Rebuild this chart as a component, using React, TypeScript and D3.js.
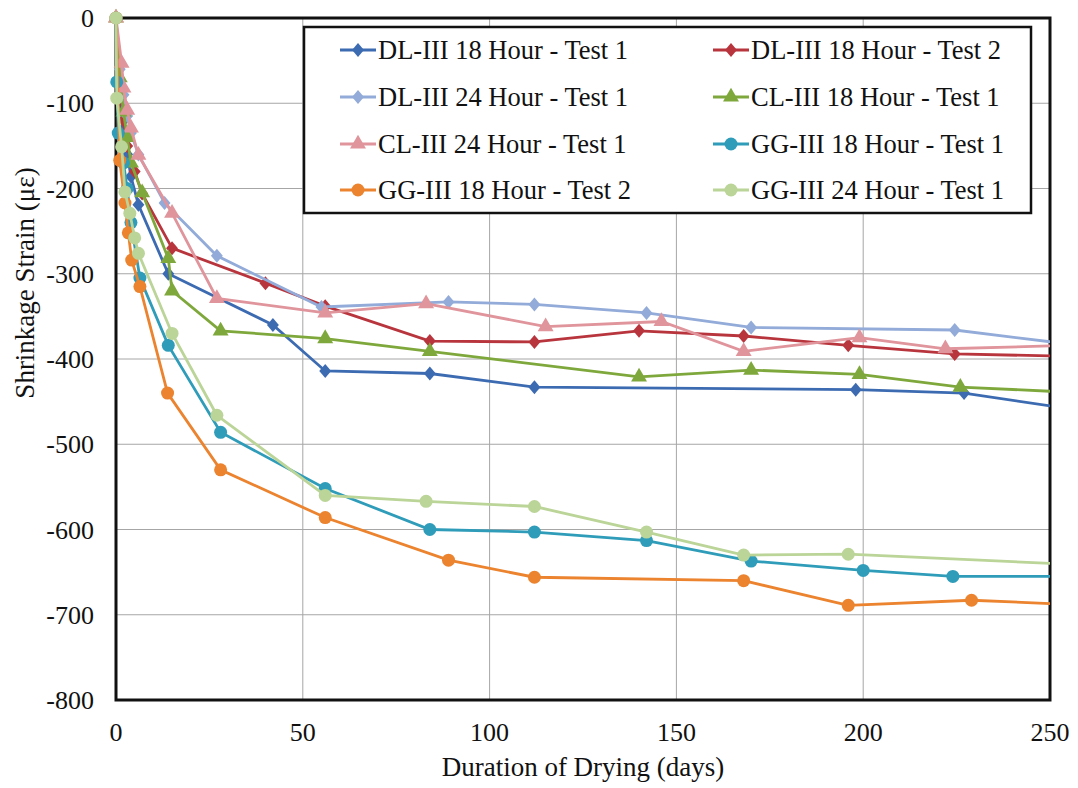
import React from "react";
import * as d3 from "d3";

// ---- data ----
const dl18t1Days = [0, 1, 2, 3, 4, 6, 14, 42, 56, 84, 112, 198, 227, 256];
const dl18t1Vals = [0, -95, -130, -160, -186, -219, -300, -360, -414, -417, -433, -436, -440, -459];

const dl18t2Days = [0, 1, 2, 3, 5, 7, 15, 40, 56, 84, 112, 140, 168, 196, 224.5, 256];
const dl18t2Vals = [0, -80, -120, -150, -180, -206, -270, -311, -338, -379, -380, -367, -373, -384, -394, -397];

const dl24t1Days = [0, 1, 2, 3, 4, 6, 13, 27, 55, 89, 112, 142, 170, 224.5, 256];
const dl24t1Vals = [0, -60, -90, -115, -135, -160, -217, -279, -339, -333, -336, -346, -363, -366, -383];

const cl18t1Days = [0, 1, 2, 3, 4, 7, 14, 15, 28, 56, 84, 140, 170, 199, 226, 256];
const cl18t1Vals = [0, -70, -110, -140, -170, -205, -282, -320, -367, -376, -391, -421, -413, -418, -433, -439];

const cl24t1Days = [0, 1.5, 2, 3, 4, 6, 15, 27, 56, 83, 115, 146, 168, 199, 222, 256];
const cl24t1Vals = [0, -53, -82, -108, -129, -161, -229, -329, -346, -335, -362, -356, -391, -375, -388, -384];

const gg18t1Days = [0, 0.2, 0.6, 2, 3, 4, 6.4, 14, 28, 56, 84, 112, 142, 170, 200, 224, 256];
const gg18t1Vals = [0, -75, -135, -170, -200, -240, -305, -384, -486, -552, -600, -603, -613, -637, -648, -655, -655];

const gg18t2Days = [0, 1, 2.4, 3.3, 4.2, 6.4, 13.8, 28, 56, 89, 112, 168, 196, 229, 256];
const gg18t2Vals = [0, -167, -217, -252, -284, -315, -440, -530, -586, -636, -656, -660, -689, -683, -688];

const gg24t1Days = [0, 0.2, 1.5, 2.4, 3.7, 5, 6, 15, 27, 56, 83, 112, 142, 168, 196, 256];
const gg24t1Vals = [0, -94, -151, -204, -229, -258, -276, -370, -466, -560, -567, -573, -603, -630, -629, -641];

const seriesNames = [
  "DL-III 18 Hour - Test 1",
  "DL-III 18 Hour - Test 2",
  "DL-III 24 Hour - Test 1",
  "CL-III 18 Hour - Test 1",
  "CL-III 24 Hour - Test 1",
  "GG-III 18 Hour - Test 1",
  "GG-III 18 Hour - Test 2",
  "GG-III 24 Hour - Test 1",
];
const seriesDays = [dl18t1Days, dl18t2Days, dl24t1Days, cl18t1Days, cl24t1Days, gg18t1Days, gg18t2Days, gg24t1Days];
const seriesVals = [dl18t1Vals, dl18t2Vals, dl24t1Vals, cl18t1Vals, cl24t1Vals, gg18t1Vals, gg18t2Vals, gg24t1Vals];
const seriesColors = ["#3D6BB2", "#B8353D", "#92ABD8", "#7FA83C", "#E0949B", "#2F9CB9", "#EB832F", "#BBD498"];
const seriesMarkers = ["diamond", "diamond", "diamond", "triangle", "triangle", "circle", "circle", "circle"];

const xTicks = [0, 50, 100, 150, 200, 250];
const yTicks = [0, -100, -200, -300, -400, -500, -600, -700, -800];

const W = 1078;
const H = 788;
const FONT = "Liberation Serif";

function Marker({ type, x, y, color }: { type: string; x: number; y: number; color: string }) {
  if (type === "diamond") {
    const s = 7;
    return <path d={`M${x},${y - s}L${x + s * 0.85},${y}L${x},${y + s}L${x - s * 0.85},${y}Z`} fill={color} />;
  }
  if (type === "triangle") {
    const p = d3.symbol().type(d3.symbolTriangle).size(110)();
    return <path d={p || ""} transform={`translate(${x},${y})`} fill={color} />;
  }
  return <circle cx={x} cy={y} r={6.5} fill={color} />;
}

export default function App() {
  const x = d3.scaleLinear().domain([0, 250]).range([116, 1050]);
  const y = d3.scaleLinear().domain([-800, 0]).range([700, 18]);
  const line = d3
    .line<[number, number]>()
    .x((d) => x(d[0]))
    .y((d) => y(d[1]));

  const legendCols = [340, 713];
  const legendRows = [50, 97, 144, 190];
  const txt = { fontFamily: FONT, fill: "#111" } as React.CSSProperties;

  return (
    <svg width={W} height={H} style={{ position: "absolute", left: 0, top: 0, background: "#fff" }}>
      <defs>
        <clipPath id="clipX">
          <rect x={0} y={0} width={x(250)} height={H} />
        </clipPath>
      </defs>
      <rect x={0} y={0} width={W} height={H} fill="#fff" />
      {/* grid */}
      {xTicks.slice(1, -1).map((t) => (
        <line key={"gx" + t} x1={x(t)} x2={x(t)} y1={y(0)} y2={y(-800)} stroke="#a6a6a6" strokeWidth={1} />
      ))}
      {yTicks.slice(1, -1).map((t) => (
        <line key={"gy" + t} x1={x(0)} x2={x(250)} y1={y(t)} y2={y(t)} stroke="#a6a6a6" strokeWidth={1} />
      ))}
      {/* frame */}
      <rect x={x(0)} y={y(0)} width={x(250) - x(0)} height={y(-800) - y(0)} fill="none" stroke="#111" strokeWidth={3} />
      {/* tick labels */}
      {yTicks.map((t) => (
        <text key={"yl" + t} x={94} y={y(t)} dy="0.35em" textAnchor="end" style={{ ...txt, fontSize: 26 }}>
          {t}
        </text>
      ))}
      {xTicks.map((t) => (
        <text key={"xl" + t} x={x(t)} y={732} dy="0.35em" textAnchor="middle" style={{ ...txt, fontSize: 26 }}>
          {t}
        </text>
      ))}
      <text x={583} y={767} dy="0.35em" textAnchor="middle" style={{ ...txt, fontSize: 27 }}>
        Duration of Drying (days)
      </text>
      <text transform={`translate(25,283) rotate(-90)`} dy="0.35em" textAnchor="middle" style={{ ...txt, fontSize: 27 }}>
        Shrinkage Strain (με)
      </text>
      {/* series */}
      {seriesNames.map((name, i) => {
        const pts: [number, number][] = seriesDays[i].map((d, j) => [d, seriesVals[i][j]]);
        return (
          <g key={name}>
            <path d={line(pts) || ""} fill="none" stroke={seriesColors[i]} strokeWidth={2.8} clipPath="url(#clipX)" />
            {pts
              .filter((p) => p[0] <= 250)
              .map((p, j) => (
                <Marker key={j} type={seriesMarkers[i]} x={x(p[0])} y={y(p[1])} color={seriesColors[i]} />
              ))}
          </g>
        );
      })}
      {/* legend */}
      <rect x={304} y={27} width={727} height={186} fill="#fff" stroke="#111" strokeWidth={2.5} />
      {seriesNames.map((name, i) => {
        const cx = legendCols[i % 2];
        const cy = legendRows[Math.floor(i / 2)];
        return (
          <g key={"lg" + i}>
            <line x1={cx} x2={cx + 36} y1={cy} y2={cy} stroke={seriesColors[i]} strokeWidth={2.8} />
            <Marker type={seriesMarkers[i]} x={cx + 18} y={cy} color={seriesColors[i]} />
            <text x={cx + 38} y={cy} dy="0.35em" style={{ ...txt, fontSize: 26.5 }}>
              {name}
            </text>
          </g>
        );
      })}
    </svg>
  );
}
